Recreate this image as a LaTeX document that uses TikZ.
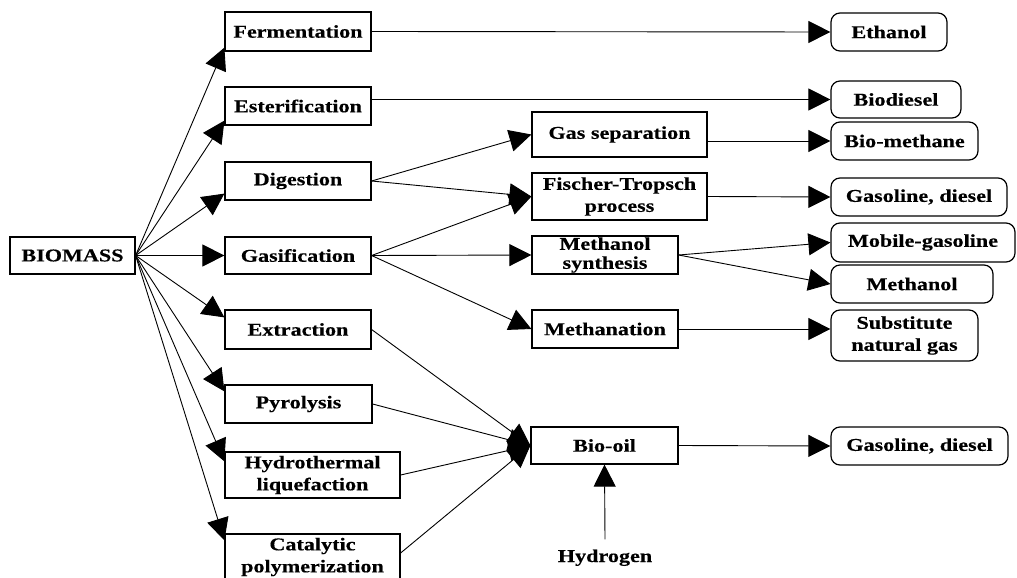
\documentclass[tikz,border=0pt]{standalone}
\usepackage{fontspec}
\newfontfamily\lab[FakeStretch=1.23,FakeBold=0.4]{Liberation Serif}
\usetikzlibrary{arrows.meta}
\begin{document}
\begin{tikzpicture}[x=1pt,y=-1pt,
  txt/.style={font=\lab\bfseries\fontsize{18}{22}\selectfont},
  box/.style={txt, draw, line width=1.2pt, inner sep=0pt, minimum height=38pt, align=center},
  prod/.style={box, rounded corners=9pt},
  arr/.style={line width=0.9pt, -{Triangle[length=22pt,width=22pt]}}]
\useasboundingbox (0,0) rectangle (1017,578);
% left column
\node[box, minimum width=125pt, minimum height=37pt] (bio) at (72.5,255.5) {BIOMASS};
\node[box, minimum width=146pt, minimum height=39pt] (fer) at (298,31.5) {Fermentation};
\node[box, minimum width=146pt] (est) at (298,106) {Esterification};
\node[box, minimum width=146pt] (dig) at (298,181) {Digestion};
\node[box, minimum width=146pt, minimum height=37pt] (gas) at (298,255.5) {Gasification};
\node[box, minimum width=146pt, minimum height=39pt] (ext) at (298,329.5) {Extraction};
\node[box, minimum width=147pt] (pyr) at (298.5,404) {Pyrolysis};
\node[box, minimum width=175pt, minimum height=46pt] (hyd) at (312.5,475) {Hydrothermal\\liquefaction};
\node[box, minimum width=175pt, minimum height=46pt] (cat) at (312.5,557) {Catalytic\\polymerization};
% middle column
\node[box, minimum width=175pt, minimum height=45pt] (gsep) at (619.5,134.5) {Gas separation};
\node[box, minimum width=175pt, minimum height=47pt] (ft) at (619.5,196.5) {Fischer-Tropsch\\process};
\node[box, minimum width=146pt, font=\lab\bfseries\fontsize{18}{19}\selectfont] (msy) at (605,255) {Methanol\\synthesis};
\node[box, minimum width=146pt] (mtn) at (605,329) {Methanation};
\node[box, minimum width=147pt, minimum height=37pt] (oil) at (604.5,445.5) {Bio-oil};
\node[txt, anchor=base, inner sep=0pt] (h2) at (605,562) {Hydrogen};
% right column
\node[prod, minimum width=116pt] (eth) at (889,32) {Ethanol};
\node[prod, minimum width=130pt, minimum height=37pt] (bdi) at (896,99.5) {Biodiesel};
\node[prod, minimum width=147pt] (bme) at (904.5,141) {Bio-methane};
\node[prod, minimum width=176pt] (gd1) at (919,197) {Gasoline, diesel};
\node[prod, minimum width=184pt, minimum height=39pt] (mob) at (923,242.5) {Mobile-gasoline};
\node[prod, minimum width=162pt] (met) at (912,284) {Methanol};
\node[prod, minimum width=147pt, minimum height=51pt] (sng) at (904.5,335.5) {Substitute\\natural gas};
\node[prod, minimum width=177pt] (gd2) at (919.5,446) {Gasoline, diesel};
% connectors from biomass
\draw[arr] (bio.east) -- ([yshift=4pt]fer.south west);
\draw[arr] (bio.east) -- ([yshift=5pt]est.south west);
\draw[arr] (bio.east) -- ([yshift=7pt]dig.south west);
\draw[arr] (bio.east) -- (gas.west);
\draw[arr] (bio.east) -- ([yshift=-8pt]ext.north west);
\draw[arr] (bio.east) -- ([yshift=-7pt]pyr.north west);
\draw[arr] (bio.east) -- ([yshift=-10pt]hyd.north west);
\draw[arr] (bio.east) -- ([yshift=-7pt]cat.north west);
% process connectors
\draw[arr] (fer.east) -- (eth.west);
\draw[arr] (est.east |- bdi.west) -- (bdi.west);
\draw[arr] (dig.east) -- (gsep.west);
\draw[arr] (dig.east) -- (ft.west);
\draw[arr] (gas.east) -- (ft.west);
\draw[arr] (gas.east) -- (msy.west);
\draw[arr] (gas.east) -- (mtn.west);
\draw[arr] (gsep.east |- bme.west) -- (bme.west);
\draw[arr] (ft.east) -- (gd1.west);
\draw[arr] (msy.east) -- (mob.west);
\draw[arr] (msy.east) -- (met.west);
\draw[arr] (mtn.east) -- (mtn.east -| sng.west);
\draw[arr] (ext.east) -- (oil.west);
\draw[arr] (pyr.east) -- (oil.west);
\draw[arr] (hyd.east) -- (oil.west);
\draw[arr] ([yshift=4pt]cat.east) -- (oil.west);
\draw[arr] (oil.east) -- (gd2.west);
\draw[arr] ([yshift=10pt]h2.north) -- (oil.south);
\end{tikzpicture}
\end{document}
